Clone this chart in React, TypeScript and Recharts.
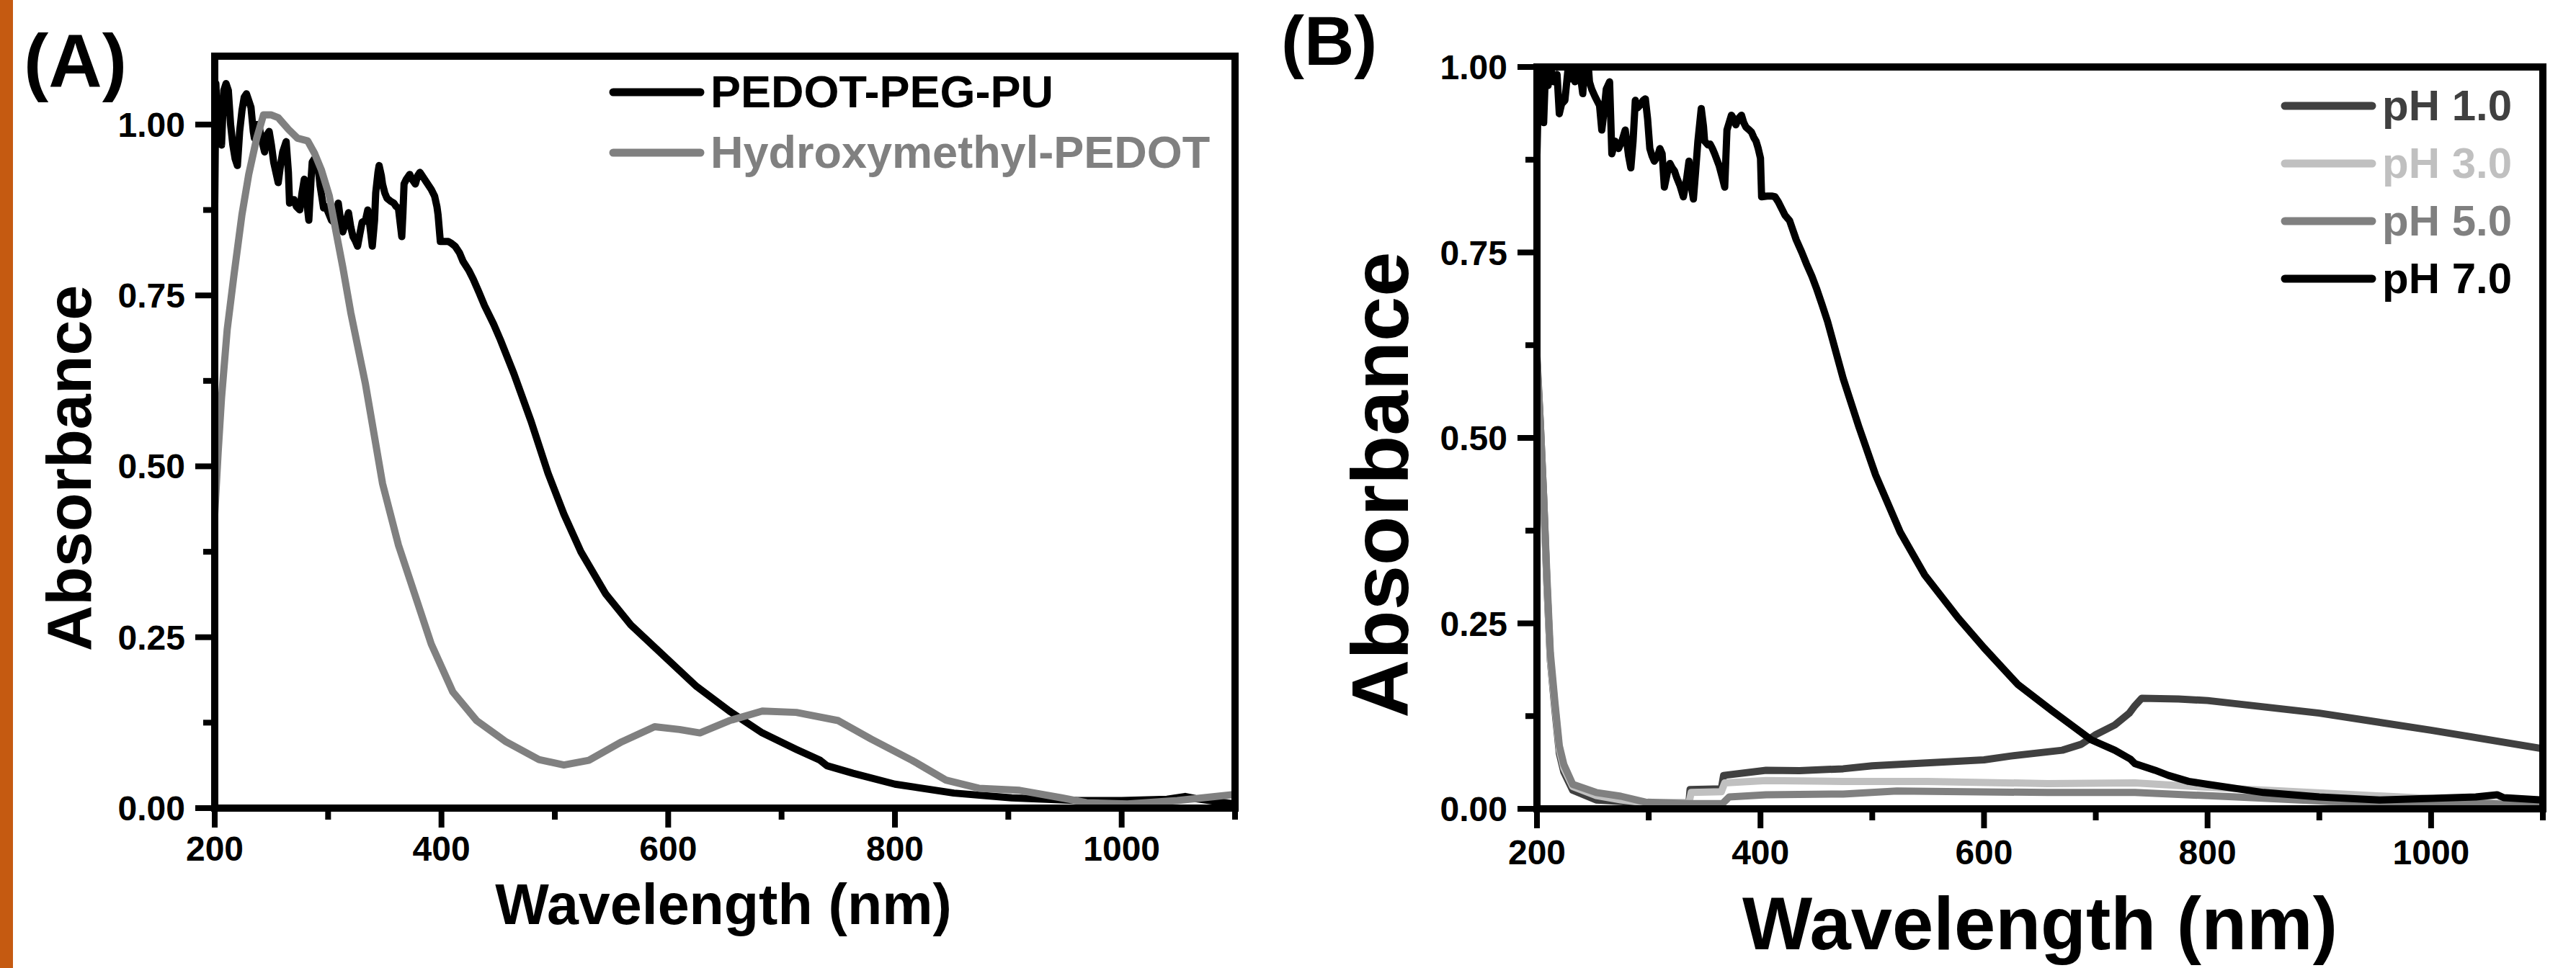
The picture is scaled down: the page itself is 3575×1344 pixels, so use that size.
import { LineChart, Line, XAxis, YAxis, Legend, ReferenceLine, Label } from "recharts";

// wavelength (nm), absorbance pairs
const pedotPegPu: [number, number][] = [
  [200, 0.88], [201, 1.06], [203, 0.98], [205, 1.03], [206, 0.97], [208, 1.05], [210, 1.06], [212, 1.05],
  [214, 1.0], [216, 0.97], [218, 0.95], [220, 0.94], [222, 0.99], [224, 1.02], [226, 1.04], [228, 1.045],
  [230, 1.035], [232, 1.025], [234, 0.99], [235, 0.98], [237, 1.0], [239, 1.0], [241, 0.98], [244, 0.96],
  [246, 0.985], [248, 0.99], [250, 0.97], [252, 0.945], [254, 0.93], [256, 0.915], [258, 0.94], [260, 0.96],
  [262, 0.97], [263, 0.975], [265, 0.93], [266, 0.885], [268, 0.89], [270, 0.89], [272, 0.88], [275, 0.875],
  [277, 0.9], [279, 0.92], [281, 0.89], [283, 0.86], [285, 0.92], [286, 0.945], [288, 0.95], [291, 0.94],
  [293, 0.91], [296, 0.878], [298, 0.88], [301, 0.868], [303, 0.86], [305, 0.857], [307, 0.87], [309, 0.885],
  [311, 0.86], [313, 0.843], [316, 0.86], [318, 0.871], [320, 0.85], [322, 0.836], [324, 0.83], [326, 0.822],
  [328, 0.84], [330, 0.857], [333, 0.86], [335, 0.875], [337, 0.85], [339, 0.822], [341, 0.86], [342, 0.9],
  [344, 0.93], [345, 0.94], [347, 0.925], [348, 0.913], [350, 0.9], [352, 0.892], [355, 0.888], [358, 0.885],
  [360, 0.88], [362, 0.878], [364, 0.85], [365, 0.836], [366, 0.87], [367, 0.913], [369, 0.92], [372, 0.927],
  [374, 0.92], [377, 0.913], [379, 0.925], [381, 0.93], [383, 0.925], [385, 0.92], [387, 0.915], [389, 0.91],
  [391, 0.905], [394, 0.895], [396, 0.88], [397, 0.868], [399, 0.829], [402, 0.829], [406, 0.829], [409, 0.826],
  [412, 0.822], [416, 0.812], [419, 0.8], [424, 0.787], [428, 0.774], [433, 0.755], [438, 0.735], [446, 0.708],
  [452, 0.685], [464, 0.635], [479, 0.566], [494, 0.49], [508, 0.43], [523, 0.375], [545, 0.313], [567, 0.268],
  [596, 0.223], [625, 0.178], [654, 0.142], [683, 0.11], [713, 0.086], [734, 0.07], [740, 0.062], [763, 0.051],
  [800, 0.035], [852, 0.022], [903, 0.015], [961, 0.011], [1000, 0.011], [1040, 0.013], [1056, 0.017],
  [1065, 0.014], [1100, 0.006],
];

const hydroxymethylPedot: [number, number][] = [
  [200, 0.43], [203, 0.52], [206, 0.6], [211, 0.7], [217, 0.78], [224, 0.868], [230, 0.927], [237, 0.98],
  [243, 1.014], [250, 1.014], [256, 1.01], [265, 0.993], [273, 0.98], [282, 0.976], [288, 0.958], [294, 0.934],
  [301, 0.896], [307, 0.843], [313, 0.791], [320, 0.725], [333, 0.62], [348, 0.475], [362, 0.385], [377, 0.31],
  [391, 0.24], [410, 0.17], [431, 0.128], [457, 0.097], [486, 0.071], [508, 0.063], [530, 0.07], [559, 0.097],
  [588, 0.119], [610, 0.115], [628, 0.11], [654, 0.128], [683, 0.142], [713, 0.14], [750, 0.128], [779, 0.101],
  [815, 0.07], [845, 0.041], [874, 0.029], [910, 0.026], [947, 0.015], [969, 0.008], [1005, 0.006],
  [1049, 0.011], [1100, 0.02],
];

const ph1: [number, number][] = [
  [200, 0.61], [203, 0.52], [206, 0.42], [209, 0.3], [212, 0.2], [216, 0.135], [220, 0.075], [224, 0.05],
  [232, 0.025], [253, 0.012], [275, 0.01], [297, 0.008], [336, 0.008], [337, 0.026], [365, 0.027], [367, 0.045],
  [405, 0.052], [435, 0.0515], [474, 0.054], [500, 0.058], [600, 0.066], [623, 0.071], [670, 0.079], [687, 0.087],
  [700, 0.1], [717, 0.113], [730, 0.129], [735, 0.139], [741, 0.149], [774, 0.148], [800, 0.146], [900, 0.129],
  [1000, 0.106], [1100, 0.081],
];

const ph3: [number, number][] = [
  [200, 0.6], [203, 0.51], [206, 0.41], [209, 0.3], [212, 0.2], [216, 0.14], [220, 0.08], [224, 0.055],
  [232, 0.03], [253, 0.018], [275, 0.012], [297, 0.008], [336, 0.008], [338, 0.022], [365, 0.023], [368, 0.035],
  [405, 0.038], [474, 0.037], [549, 0.037], [657, 0.034], [735, 0.035], [800, 0.029], [867, 0.024], [933, 0.019],
  [998, 0.014], [1041, 0.009], [1100, 0.005],
];

const ph5: [number, number][] = [
  [200, 0.6], [203, 0.52], [206, 0.42], [209, 0.31], [212, 0.21], [216, 0.145], [220, 0.085], [224, 0.06],
  [232, 0.033], [253, 0.022], [275, 0.017], [297, 0.009], [336, 0.007], [366, 0.007], [372, 0.016], [405, 0.019],
  [474, 0.02], [522, 0.024], [657, 0.022], [735, 0.022], [826, 0.016], [909, 0.01], [998, 0.008], [1041, 0.008],
  [1100, 0.003],
];

const ph7: [number, number][] = [
  [200, 0.88], [202, 1.02], [204, 1.0], [206, 0.925], [208, 1.01], [210, 0.975], [212, 1.0], [215, 0.98],
  [218, 0.99], [220, 0.937], [222, 0.95], [225, 0.955], [228, 1.0], [230, 0.984], [232, 1.01], [234, 0.98],
  [237, 1.01], [241, 0.964], [243, 1.01], [245, 1.02], [247, 0.98], [249, 0.97], [252, 0.96], [256, 0.948],
  [258, 0.915], [260, 0.94], [262, 0.97], [265, 0.98], [267, 0.883], [270, 0.9], [273, 0.89], [276, 0.9],
  [279, 0.915], [282, 0.88], [284, 0.864], [286, 0.9], [288, 0.955], [290, 0.945], [292, 0.948], [295, 0.955],
  [297, 0.957], [299, 0.93], [301, 0.89], [303, 0.88], [305, 0.873], [308, 0.88], [310, 0.89], [312, 0.883],
  [314, 0.838], [317, 0.86], [319, 0.87], [321, 0.864], [323, 0.86], [325, 0.851], [328, 0.84], [331, 0.825],
  [334, 0.85], [336, 0.873], [338, 0.84], [340, 0.822], [342, 0.86], [344, 0.9], [347, 0.944], [349, 0.92],
  [350, 0.9], [353, 0.895], [355, 0.896], [357, 0.89], [359, 0.883], [361, 0.875], [363, 0.867], [366, 0.85],
  [368, 0.838], [370, 0.915], [372, 0.925], [374, 0.935], [376, 0.93], [378, 0.922], [380, 0.93], [383, 0.935],
  [385, 0.925], [387, 0.919], [390, 0.915], [392, 0.912], [394, 0.905], [396, 0.9], [398, 0.89], [400, 0.877],
  [401, 0.825], [406, 0.826], [410, 0.826], [413, 0.825], [416, 0.818], [419, 0.809], [422, 0.8], [426, 0.793],
  [429, 0.78], [432, 0.767], [437, 0.75], [441, 0.735], [446, 0.718], [450, 0.702], [455, 0.68], [460, 0.657],
  [474, 0.58], [488, 0.515], [503, 0.45], [525, 0.373], [547, 0.315], [577, 0.257], [600, 0.217], [630, 0.168],
  [661, 0.132], [696, 0.093], [717, 0.079], [731, 0.067], [735, 0.061], [753, 0.052], [765, 0.045], [783, 0.037],
  [800, 0.033], [850, 0.022], [900, 0.016], [954, 0.012], [1000, 0.014], [1040, 0.016], [1059, 0.019],
  [1065, 0.015], [1100, 0.012],
];

const xTicks = [200, 300, 400, 500, 600, 700, 800, 900, 1000, 1100];
const xMajor = [200, 400, 600, 800, 1000];
const yTicks = [0, 0.125, 0.25, 0.375, 0.5, 0.625, 0.75, 0.875, 1.0];

const namesA = ["PEDOT-PEG-PU", "Hydroxymethyl-PEDOT"];
const namesB = ["pH 1.0", "pH 3.0", "pH 5.0", "pH 7.0"];

const FONT = "'Liberation Sans', Arial, Helvetica, sans-serif";
const toRows = (pts: [number, number][]) => pts.map(([x, y]) => ({ x, y }));

const xTick = (labelGap: number) => (props: any) => {
  const { x, y, payload } = props;
  const major = xMajor.includes(payload.value);
  return (
    <g>
      <line x1={x} x2={x} y1={y} y2={y + (major ? 27 : 16)} stroke="#000" strokeWidth={8} />
      {major && (
        <text x={x} y={y + labelGap} textAnchor="middle" fontSize={48} fontWeight="bold" fontFamily={FONT} fill="#000">
          {payload.value}
        </text>
      )}
    </g>
  );
};

const yTick = (props: any) => {
  const { x, y, payload } = props;
  const v = payload.value as number;
  const major = Math.abs(v * 4 - Math.round(v * 4)) < 1e-6;
  return (
    <g>
      <line x1={x} x2={x - (major ? 27 : 16)} y1={y} y2={y} stroke="#000" strokeWidth={8} />
      {major && (
        <text x={x - 41} y={y + 17} textAnchor="end" fontSize={48} fontWeight="bold" fontFamily={FONT} fill="#000">
          {v.toFixed(2)}
        </text>
      )}
    </g>
  );
};

const legendContent = (order: string[], lx1: number, lx2: number, y0: number, dy: number, fs: number) => (props: any) => {
  const items = [...(props.payload || [])].sort((a: any, b: any) => order.indexOf(a.value) - order.indexOf(b.value));
  return (
    <svg width={760} height={dy * items.length + 40} style={{ overflow: "visible" }}>
      {items.map((it: any, i: number) => {
        const cy = y0 + i * dy;
        return (
          <g key={it.value}>
            <line x1={lx1} x2={lx2} y1={cy} y2={cy} stroke={it.color} strokeWidth={11} strokeLinecap="round" />
            <text x={lx2 + 14} y={cy + fs * 0.34} fontSize={fs} fontWeight="bold" fontFamily={FONT} fill={it.color}>
              {it.value}
            </text>
          </g>
        );
      })}
    </svg>
  );
};

const axisLine = { stroke: "#000", strokeWidth: 10, strokeLinecap: "square" as const };
const LW = 10;

function PanelA() {
  return (
    <LineChart width={1800} height={1344} margin={{ top: 78, right: 86, bottom: 122, left: 98 }}>
      <XAxis
        type="number" dataKey="x" domain={[200, 1100]} allowDataOverflow ticks={xTicks} interval={0}
        tickSize={0} tickMargin={0} tickLine={false} axisLine={axisLine} height={100} tick={xTick(73)}
      >
        <Label
          content={() => (
            <g fontFamily={FONT} fontWeight="bold" fill="#000">
              <text x={1004} y={1283} textAnchor="middle" fontSize={79}>Wavelength (nm)</text>
              <text x={33} y={120} fontSize={103}>(A)</text>
            </g>
          )}
        />
      </XAxis>
      <YAxis
        type="number" dataKey="y" domain={[0, 1.1]} allowDataOverflow ticks={yTicks} interval={0}
        tickSize={0} tickMargin={0} tickLine={false} axisLine={axisLine} width={200} tick={yTick}
      >
        <Label
          content={() => (
            <text x={126} y={650} transform="rotate(-90 126 650)" textAnchor="middle" fontSize={88}
              fontWeight="bold" fontFamily={FONT} fill="#000">Absorbance</text>
          )}
        />
      </YAxis>
      <Line data={toRows(pedotPegPu)} dataKey="y" name="PEDOT-PEG-PU" type="linear" stroke="#000000"
        strokeWidth={LW} dot={false} isAnimationActive={false} strokeLinejoin="round" />
      <Line data={toRows(hydroxymethylPedot)} dataKey="y" name="Hydroxymethyl-PEDOT" type="linear" stroke="#808080"
        strokeWidth={LW} dot={false} isAnimationActive={false} strokeLinejoin="round" />
      <ReferenceLine y={1.1} stroke="#000" strokeWidth={10} strokeLinecap="square" />
      <ReferenceLine x={1100} stroke="#000" strokeWidth={10} strokeLinecap="square" />
      <Legend
        layout="vertical" align="center" verticalAlign="middle"
        wrapperStyle={{ position: "absolute", left: 0, top: 0, width: 1600, height: 300 }}
        content={legendContent(namesA, 851, 972, 128, 84, 63)}
      />
    </LineChart>
  );
}

function PanelB() {
  return (
    <LineChart width={1815} height={1344} margin={{ top: 93, right: 46, bottom: 121, left: 173 }}>
      <XAxis
        type="number" dataKey="x" domain={[200, 1100]} allowDataOverflow ticks={xTicks} interval={0}
        tickSize={0} tickMargin={0} tickLine={false} axisLine={axisLine} height={100} tick={xTick(77)}
      >
        <Label
          content={() => (
            <g fontFamily={FONT} fontWeight="bold" fill="#000">
              <text x={1071} y={1318} textAnchor="middle" fontSize={103}>Wavelength (nm)</text>
              <text x={18} y={90} fontSize={96}>(B)</text>
            </g>
          )}
        />
      </XAxis>
      <YAxis
        type="number" dataKey="y" domain={[0, 1]} allowDataOverflow ticks={yTicks} interval={0}
        tickSize={0} tickMargin={0} tickLine={false} axisLine={axisLine} width={200} tick={yTick}
      >
        <Label
          content={() => (
            <text x={194} y={673} transform="rotate(-90 194 673)" textAnchor="middle" fontSize={112}
              fontWeight="bold" fontFamily={FONT} fill="#000">Absorbance</text>
          )}
        />
      </YAxis>
      <Line data={toRows(ph1)} dataKey="y" name="pH 1.0" type="linear" stroke="#404040"
        strokeWidth={LW} dot={false} isAnimationActive={false} strokeLinejoin="round" />
      <Line data={toRows(ph3)} dataKey="y" name="pH 3.0" type="linear" stroke="#c0c0c0"
        strokeWidth={LW} dot={false} isAnimationActive={false} strokeLinejoin="round" />
      <Line data={toRows(ph5)} dataKey="y" name="pH 5.0" type="linear" stroke="#808080"
        strokeWidth={LW} dot={false} isAnimationActive={false} strokeLinejoin="round" />
      <Line data={toRows(ph7)} dataKey="y" name="pH 7.0" type="linear" stroke="#000000"
        strokeWidth={LW} dot={false} isAnimationActive={false} strokeLinejoin="round" />
      <ReferenceLine y={1} stroke="#000" strokeWidth={10} strokeLinecap="square" />
      <ReferenceLine x={1100} stroke="#000" strokeWidth={10} strokeLinecap="square" />
      <Legend
        layout="vertical" align="center" verticalAlign="middle"
        wrapperStyle={{ position: "absolute", left: 1020, top: 0, width: 790, height: 500 }}
        content={legendContent(namesB, 391, 512, 147, 80, 60)}
      />
    </LineChart>
  );
}

export default function App() {
  return (
    <div style={{ position: "fixed", left: 0, top: 0, width: 3575, height: 1344, background: "#fff", overflow: "hidden" }}>
      <div style={{ position: "absolute", left: 0, top: 0, width: 18, height: 1344, background: "#c55a11" }} />
      <div style={{ position: "absolute", left: 0, top: 0 }}>
        <PanelA />
      </div>
      <div style={{ position: "absolute", left: 1760, top: 0 }}>
        <PanelB />
      </div>
    </div>
  );
}
